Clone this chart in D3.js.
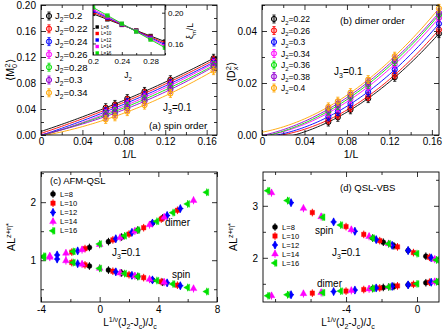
<!DOCTYPE html>
<html><head><meta charset="utf-8">
<script src="https://cdn.jsdelivr.net/npm/d3@7"></script>
<style>body{margin:0;background:#fff;} svg text{font-family:"Liberation Sans",Arial,Helvetica,sans-serif;}</style>
</head><body>
<script>
// ---------------- data ----------------
const sizesL = [16, 14, 12, 10, 8, 6];              // system sizes for panels (a),(b)
const seriesColors = ["#000000", "#ff0000", "#0000ff", "#ff00ff", "#00e000", "#9400d3", "#ffa500"];

const spinJ2 = ["0.2", "0.22", "0.24", "0.26", "0.28", "0.3", "0.34"];
const spinM2 = [
  [0.042, 0.047, 0.056, 0.067, 0.085, 0.118],
  [0.039, 0.044, 0.053, 0.064, 0.082, 0.115],
  [0.036, 0.041, 0.050, 0.061, 0.079, 0.112],
  [0.033, 0.038, 0.047, 0.058, 0.076, 0.110],
  [0.031, 0.036, 0.044, 0.055, 0.073, 0.107],
  [0.029, 0.033, 0.041, 0.052, 0.070, 0.105],
  [0.024, 0.028, 0.036, 0.046, 0.064, 0.099]
];

const dimerJ2 = ["0.22", "0.26", "0.3", "0.34", "0.36", "0.38", "0.4"];
const dimerD2 = [
  [0.0050, 0.0068, 0.0097, 0.0140, 0.0222, 0.0390],
  [0.0058, 0.0077, 0.0105, 0.0148, 0.0232, 0.0405],
  [0.0070, 0.0090, 0.0120, 0.0165, 0.0252, 0.0428],
  [0.0085, 0.0105, 0.0138, 0.0185, 0.0272, 0.0450],
  [0.0092, 0.0113, 0.0147, 0.0195, 0.0283, 0.0462],
  [0.0100, 0.0120, 0.0155, 0.0203, 0.0292, 0.0470],
  [0.0108, 0.0130, 0.0163, 0.0213, 0.0303, 0.0487]
];

// inset: xi_m / L vs J2
const insetJ2 = [0.2, 0.22, 0.24, 0.26, 0.28, 0.3];
const insetL = [8, 10, 12, 14, 16];
const insetXi = [
  [0.1985, 0.1913, 0.1841, 0.1769, 0.1697, 0.1625],
  [0.2005, 0.1925, 0.1845, 0.1765, 0.1685, 0.1605],
  [0.2025, 0.1937, 0.1849, 0.1762, 0.1674, 0.1586],
  [0.2045, 0.1949, 0.1853, 0.1758, 0.1662, 0.1566],
  [0.2070, 0.1963, 0.1857, 0.1755, 0.1650, 0.1545]
];

// collapse panels
const collapseL = [8, 10, 12, 14, 16];
const collapseColors = ["#000000", "#ff0000", "#0000ff", "#ff00ff", "#00e000"];

const cX = [
  [-0.7, 0.6, 1.5, 2.6, 3.6, 4.3],
  [-1.9, -1.0, 0.9, 2.0, 3.0, 4.2, 5.3],
  [-2.9, -1.5, 1.1, 2.2, 3.6, 4.6, 5.5],
  [-3.4, -2.3, -1.2, 0, 1.4, 2.4, 3.4, 4.4, 6.4],
  [-3.8, -1.8, 0, 1.7, 2.6, 3.9, 5.0, 6.0, 7.3]
];
const cDimer = [
  [1.22, 1.32, 1.40, 1.52, 1.64, 1.73],
  [1.14, 1.20, 1.35, 1.45, 1.56, 1.71, 1.86],
  [1.09, 1.16, 1.37, 1.48, 1.64, 1.77, 1.89],
  [1.07, 1.12, 1.18, 1.27, 1.39, 1.50, 1.61, 1.74, 2.03],
  [1.05, 1.15, 1.28, 1.42, 1.52, 1.67, 1.82, 1.97, 2.17]
];
const cSpin = [
  [0.90, 0.83, 0.78, 0.72, 0.66, 0.62],
  [0.96, 0.92, 0.81, 0.75, 0.70, 0.63, 0.57],
  [1.02, 0.94, 0.80, 0.74, 0.66, 0.61, 0.56],
  [1.05, 0.99, 0.93, 0.86, 0.78, 0.73, 0.67, 0.62, 0.51],
  [1.07, 0.96, 0.86, 0.77, 0.72, 0.65, 0.59, 0.53, 0.46]
];

const dX = [
  [-2.5, -1.9, -1.3, -0.5, 0.5],
  [-5.9, -4.0, -3.0, -2.1, -1.1, -0.2, 0.7],
  [-7.1, -4.7, -3.5, -2.3, -1.4, -0.5, 0.8],
  [-8.2, -6.4, -5.4, -3.7, -2.7, -1.6, 1.0],
  [-8.4, -7.3, -5.3, -4.3, -2.5, -1.6, 0, 1.1]
];
const dSpin = [
  [2.38, 2.30, 2.23, 2.14, 2.03],
  [2.87, 2.60, 2.45, 2.33, 2.21, 2.10, 2.01],
  [3.06, 2.69, 2.51, 2.35, 2.24, 2.14, 2.00],
  [3.25, 2.95, 2.79, 2.54, 2.41, 2.27, 1.97],
  [3.29, 3.10, 2.78, 2.63, 2.38, 2.27, 2.08, 1.96]
];
const dDimer = [
  [1.41, 1.43, 1.45, 1.48, 1.52],
  [1.32, 1.36, 1.39, 1.42, 1.46, 1.49, 1.53],
  [1.29, 1.35, 1.38, 1.42, 1.45, 1.48, 1.53],
  [1.27, 1.31, 1.33, 1.37, 1.40, 1.44, 1.54],
  [1.27, 1.29, 1.33, 1.36, 1.41, 1.44, 1.50, 1.54]
];

// tick values
const abXTicks = [0, 0.04, 0.08, 0.12, 0.16];
const aYTicks = [0, 0.04, 0.08, 0.12, 0.16, 0.20];
const bYTicks = [0, 0.02, 0.04];
const cXTicks = [-4, 0, 4, 8];
const cYTicks = [1, 2];
const dXTicks = [-4, 0];
const dYTicks = [2, 3];
const insetXTicks = [0.2, 0.24, 0.28];
const insetYTicks = [0.16, 0.20];

// ---------------- helpers ----------------
const W = 443, H = 333;
const svg = d3.select("body").append("svg").attr("width", W).attr("height", H)
  .style("background", "#fff");

function polyfit(xs, ys, deg) {
  const n = deg + 1;
  const A = Array.from({length: n}, () => Array(n + 1).fill(0));
  xs.forEach((x, k) => {
    for (let i = 0; i < n; i++) {
      for (let j = 0; j < n; j++) A[i][j] += Math.pow(x, i + j);
      A[i][n] += ys[k] * Math.pow(x, i);
    }
  });
  for (let i = 0; i < n; i++) {
    let p = i;
    for (let r = i + 1; r < n; r++) if (Math.abs(A[r][i]) > Math.abs(A[p][i])) p = r;
    [A[i], A[p]] = [A[p], A[i]];
    for (let r = 0; r < n; r++) {
      if (r === i) continue;
      const f = A[r][i] / A[i][i];
      for (let c = i; c <= n; c++) A[r][c] -= f * A[i][c];
    }
  }
  return A.map((row, i) => row[n] / row[i]);
}
const polyval = (c, x) => c.reduce((s, ci, i) => s + ci * Math.pow(x, i), 0);

// rich text: parts = [[text, type, dx]]
function rich(g, parts, size, attrs) {
  const t = g.append("text").attr("font-size", size).attr("fill", "#000");
  Object.entries(attrs || {}).forEach(([k, v]) => t.attr(k, v));
  let shift = 0;
  parts.forEach(([s, type, dx]) => {
    const target = type === "sub" ? size * 0.3 : type === "sup" ? -size * 0.42 : 0;
    const ts = t.append("tspan").text(s).attr("dy", target - shift);
    if (dx) ts.attr("dx", dx);
    if (type !== "n") ts.attr("font-size", size * 0.7);
    shift = target;
  });
  return t;
}

let clipId = 0;
function makePanel(x, y, o) {
  const g = svg.append("g");
  const [x0, x1] = x.range(), [y0, y1] = y.range();
  const id = "clip" + (clipId++);
  g.append("clipPath").attr("id", id).append("rect")
    .attr("x", x0).attr("y", y1).attr("width", x1 - x0).attr("height", y0 - y1);
  if (o.bg) g.append("rect").attr("x", x0).attr("y", y1).attr("width", x1 - x0).attr("height", y0 - y1).attr("fill", "#fff");
  const ax = g.append("g");
  const maj = o.maj || 5, min = o.min || 3;
  const style = sel => {
    sel.select(".domain").remove();
    sel.selectAll("line").attr("stroke", "#000").attr("stroke-width", 0.8);
    sel.selectAll("text").attr("font-size", o.fs || 10).attr("fill", "#000")
      .style("font-family", "'Liberation Sans',Arial,sans-serif");
  };
  const none = () => "";
  // bottom
  ax.append("g").attr("transform", `translate(0,${y0})`)
    .call(d3.axisBottom(x).tickValues(o.xMajor).tickSize(-maj).tickPadding(o.xpad || 3).tickFormat(o.xLabels === false ? none : o.xfmt)).call(style);
  ax.append("g").attr("transform", `translate(0,${y0})`)
    .call(d3.axisBottom(x).tickValues(o.xMinor).tickSize(-min).tickFormat(none)).call(style);
  // top
  ax.append("g").attr("transform", `translate(0,${y1})`)
    .call(d3.axisTop(x).tickValues(o.xMajor).tickSize(-maj).tickFormat(none)).call(style);
  ax.append("g").attr("transform", `translate(0,${y1})`)
    .call(d3.axisTop(x).tickValues(o.xMinor).tickSize(-min).tickFormat(none)).call(style);
  // left
  ax.append("g").attr("transform", `translate(${x0},0)`)
    .call(d3.axisLeft(y).tickValues(o.yMajor).tickSize(-maj).tickPadding(o.ypad || 5).tickFormat(o.yRight ? none : o.yfmt)).call(style);
  ax.append("g").attr("transform", `translate(${x0},0)`)
    .call(d3.axisLeft(y).tickValues(o.yMinor).tickSize(-min).tickFormat(none)).call(style);
  // right
  ax.append("g").attr("transform", `translate(${x1},0)`)
    .call(d3.axisRight(y).tickValues(o.yMajor).tickSize(-maj).tickPadding(o.ypad || 5).tickFormat(o.yRight ? o.yfmt : none)).call(style);
  ax.append("g").attr("transform", `translate(${x1},0)`)
    .call(d3.axisRight(y).tickValues(o.yMinor).tickSize(-min).tickFormat(none)).call(style);
  // plot layer (clipped)
  const plot = g.append("g").attr("clip-path", `url(#${id})`);
  const top = g.append("g");
  g.append("rect").attr("x", x0).attr("y", y1).attr("width", x1 - x0).attr("height", y0 - y1)
    .attr("fill", "none").attr("stroke", "#000").attr("stroke-width", 0.9);
  return {g, plot, top};
}

const fmtA = v => v === 0 ? "0" : d3.format(".2f")(v);
const fmtInt = v => String(v);

function circleMarker(sel, cx, cy, color) {
  sel.append("line").attr("x1", cx).attr("x2", cx).attr("y1", cy - 4).attr("y2", cy + 4)
    .attr("stroke", color).attr("stroke-width", 0.9);
  sel.append("line").attr("x1", cx - 1.6).attr("x2", cx + 1.6).attr("y1", cy - 4).attr("y2", cy - 4).attr("stroke", color).attr("stroke-width", 0.8);
  sel.append("line").attr("x1", cx - 1.6).attr("x2", cx + 1.6).attr("y1", cy + 4).attr("y2", cy + 4).attr("stroke", color).attr("stroke-width", 0.8);
  sel.append("circle").attr("cx", cx).attr("cy", cy).attr("r", 2.6)
    .attr("fill", color).attr("fill-opacity", 0.25).attr("stroke", color).attr("stroke-width", 1);
}

const symTypes = [d3.symbolCircle, d3.symbolSquare, d3.symbolDiamond, d3.symbolTriangle, d3.symbolTriangle];
const symRot = [0, 0, 0, 0, -90];
function shapeMarker(sel, cx, cy, k) {
  const c = collapseColors[k];
  sel.append("line").attr("x1", cx).attr("x2", cx).attr("y1", cy - 3.8).attr("y2", cy + 3.8)
    .attr("stroke", c).attr("stroke-width", 1);
  if (k === 2) sel.append("line").attr("x1", cx - 3).attr("x2", cx + 3).attr("y1", cy).attr("y2", cy)
    .attr("stroke", c).attr("stroke-width", 1);
  sel.append("path").attr("d", d3.symbol().type(symTypes[k]).size(k === 2 ? 20 : 20)())
    .attr("transform", `translate(${cx},${cy}) rotate(${symRot[k]})`)
    .attr("fill", c).attr("stroke", c).attr("stroke-width", 0.4);
}

// ---------------- panel (a) ----------------
{
  const x = d3.scaleLinear().domain([0, 0.17]).range([41, 217]);
  const y = d3.scaleLinear().domain([0, 0.20]).range([135, 5]);
  const p = makePanel(x, y, {
    xMajor: abXTicks, xMinor: [0.02, 0.06, 0.10, 0.14], xfmt: fmtA,
    yMajor: aYTicks, yMinor: [0.02, 0.06, 0.10, 0.14, 0.18], yfmt: d3.format(".2f")
  });
  const invL = sizesL.map(L => 1 / L);
  spinM2.forEach((vals, k) => {
    const c = polyfit(invL, vals, 2);
    const xs = d3.range(0, 0.1701, 0.0025);
    p.plot.append("path").datum(xs)
      .attr("d", d3.line().x(d => x(d)).y(d => y(polyval(c, d))))
      .attr("fill", "none").attr("stroke", seriesColors[k]).attr("stroke-width", 0.9);
  });
  spinM2.forEach((vals, k) => {
    vals.forEach((v, i) => circleMarker(p.top, x(invL[i]), y(v), seriesColors[k]));
  });
  // legend
  spinJ2.forEach((j, k) => {
    const yy = 16 + k * 12.8;
    circleMarker(p.top, 49, yy, seriesColors[k]);
    rich(p.top, [["J", "n"], ["2", "sub"], ["=" + j, "n"]], 9.5, {x: 55, y: yy + 3.4});
  });
  rich(svg, [["J", "n"], ["3", "sub"], ["=0.1", "n"]], 10, {x: 163, y: 111});
  svg.append("text").attr("x", 149).attr("y", 129).attr("font-size", 9.8).text("(a) spin order");
  svg.append("text").attr("x", 129).attr("y", 158).attr("font-size", 10.5).attr("text-anchor", "middle").text("1/L");
  rich(svg, [["\u27E8M", "n"], ["0", "sub"], ["2", "sup", -3.5], ["\u27E9", "n"]], 10.5,
    {transform: "translate(14,70) rotate(-90)", "text-anchor": "middle"});

  // inset
  const xi = d3.scaleLinear().domain([0.2, 0.3]).range([93, 165]);
  const yi = d3.scaleLinear().domain([0.145, 0.21]).range([55, 5]);
  const pi = makePanel(xi, yi, {
    bg: true, maj: 3, min: 2, fs: 8, xpad: 3, ypad: 3,
    xMajor: insetXTicks, xMinor: [0.22, 0.26, 0.3], xfmt: v => v === 0.2 ? "0.2" : d3.format(".2f")(v),
    yMajor: insetYTicks, yMinor: [0.18], yfmt: d3.format(".2f"), yRight: true
  });
  insetXi.forEach((vals, k) => {
    const c = polyfit(insetJ2, vals, 1);
    pi.plot.append("line").attr("x1", xi(0.2)).attr("x2", xi(0.3))
      .attr("y1", yi(polyval(c, 0.2))).attr("y2", yi(polyval(c, 0.3)))
      .attr("stroke", seriesColors[k]).attr("stroke-width", 0.9);
    vals.forEach((v, i) => {
      pi.plot.append("rect").attr("x", xi(insetJ2[i]) - 2.2).attr("y", yi(v) - 2.2)
        .attr("width", 4.4).attr("height", 4.4).attr("fill", seriesColors[k]).attr("opacity", 0.85);
    });
  });
  insetL.forEach((L, k) => {
    const yy = 27 + k * 6.5;
    pi.top.append("rect").attr("x", 95.5).attr("y", yy - 1.7).attr("width", 3.4).attr("height", 3.4).attr("fill", seriesColors[k]);
    pi.top.append("text").attr("x", 101).attr("y", yy + 1.6).attr("font-size", 4.6).text("L=" + L);
  });
  rich(svg, [["J", "n"], ["2", "sub"]], 8.5, {x: 128, y: 78, "text-anchor": "middle"});
  rich(svg, [["\u03BE", "n"], ["m", "sub"], ["/L", "n"]], 8.5,
    {transform: "translate(193,31) rotate(-90)", "text-anchor": "middle"});
}

// ---------------- panel (b) ----------------
{
  const x = d3.scaleLinear().domain([0, 0.1667]).range([262, 439]);
  const y = d3.scaleLinear().domain([0, 0.05]).range([135, 5]);
  const p = makePanel(x, y, {
    xMajor: abXTicks, xMinor: [0.02, 0.06, 0.10, 0.14], xfmt: fmtA,
    yMajor: bYTicks, yMinor: [0.01, 0.03, 0.05], yfmt: d3.format(".2f")
  });
  const invL = sizesL.map(L => 1 / L);
  dimerD2.forEach((vals, k) => {
    const c = polyfit(invL, vals, 2);
    const xs = d3.range(0, 0.1701, 0.0025);
    p.plot.append("path").datum(xs)
      .attr("d", d3.line().x(d => x(d)).y(d => y(polyval(c, d))))
      .attr("fill", "none").attr("stroke", seriesColors[k]).attr("stroke-width", 0.9);
  });
  dimerD2.forEach((vals, k) => {
    vals.forEach((v, i) => circleMarker(p.top, x(invL[i]), y(v), seriesColors[k]));
  });
  dimerJ2.forEach((j, k) => {
    const yy = 19 + k * 11.5;
    circleMarker(p.top, 274, yy, seriesColors[k]);
    rich(p.top, [["J", "n"], ["2", "sub"], ["=" + j, "n"]], 8.5, {x: 281, y: yy + 3});
  });
  svg.append("text").attr("x", 340).attr("y", 24).attr("font-size", 9.8).text("(b) dimer order");
  rich(svg, [["J", "n"], ["3", "sub"], ["=0.1", "n"]], 10, {x: 334, y: 75});
  svg.append("text").attr("x", 351).attr("y", 158).attr("font-size", 10.5).attr("text-anchor", "middle").text("1/L");
  rich(svg, [["\u27E8D", "n"], ["x", "sub"], ["2", "sup", -3.5], ["\u27E9", "n"]], 10.5,
    {transform: "translate(235,72) rotate(-90)", "text-anchor": "middle"});
}

// ---------------- panels (c),(d) ----------------
function collapsePanel(x, y, opts, X, D, S, leg, texts) {
  const p = makePanel(x, y, opts);
  [D, S].forEach(arr => arr.forEach((vals, k) => {
    vals.forEach((v, i) => shapeMarker(p.plot, x(X[k][i]), y(v), k));
  }));
  collapseL.forEach((L, k) => {
    const yy = leg.y0 + k * leg.dy;
    shapeMarker(p.top, leg.x, yy, k);
    p.top.append("text").attr("x", leg.x + 7).attr("y", yy + 2.6).attr("font-size", 7.6).text("L=" + L);
  });
  texts(p);
  return p;
}
const xLabelParts = [["L", "n"], ["1/\u03BD", "sup"], ["(J", "n"], ["2", "sub"], ["-J", "n"], ["c", "sub"], [")/J", "n"], ["c", "sub"]];
const yLabelParts = [["AL", "n"], ["z+\u03B7*", "sup"]];

collapsePanel(
  d3.scaleLinear().domain([-4, 8]).range([41, 217]),
  d3.scaleLinear().domain([0.28, 2.52]).range([302, 172]),
  {xMajor: cXTicks, xMinor: [-2, 2, 6], xfmt: fmtInt, xpad: 4,
   yMajor: cYTicks, yMinor: [0.5, 1.5, 2.5], yfmt: fmtInt},
  cX, cDimer, cSpin, {x: 53, y0: 194, dy: 9.2},
  p => {
    svg.append("text").attr("x", 50).attr("y", 184).attr("font-size", 9.5).text("(c) AFM-QSL");
    svg.append("text").attr("x", 165).attr("y", 226).attr("font-size", 10).text("dimer");
    svg.append("text").attr("x", 172).attr("y", 278).attr("font-size", 10).text("spin");
    rich(svg, [["J", "n"], ["3", "sub"], ["=0.1", "n"]], 10, {x: 112, y: 256});
    rich(svg, xLabelParts, 10, {x: 130, y: 326, "text-anchor": "middle"});
    rich(svg, yLabelParts, 10.5, {transform: "translate(15,237) rotate(-90)", "text-anchor": "middle"});
  }
);

collapsePanel(
  d3.scaleLinear().domain([-8.68, 1.24]).range([263, 439]),
  d3.scaleLinear().domain([1.15, 3.65]).range([302, 172]),
  {xMajor: dXTicks, xMinor: [-8, -6, -2], xfmt: fmtInt, xpad: 4,
   yMajor: dYTicks, yMinor: [1.5, 2.5, 3.5], yfmt: fmtInt},
  dX, dDimer, dSpin, {x: 275, y0: 227, dy: 9},
  p => {
    svg.append("text").attr("x", 340).attr("y", 191).attr("font-size", 9.5).text("(d) QSL-VBS");
    svg.append("text").attr("x", 315).attr("y", 234).attr("font-size", 10).text("spin");
    svg.append("text").attr("x", 317).attr("y", 287).attr("font-size", 10).text("dimer");
    rich(svg, [["J", "n"], ["3", "sub"], ["=0.1", "n"]], 10, {x: 332, y: 256});
    rich(svg, xLabelParts, 10, {x: 348, y: 326, "text-anchor": "middle"});
    rich(svg, yLabelParts, 10.5, {transform: "translate(237,237) rotate(-90)", "text-anchor": "middle"});
  }
);
</script>
</body></html>
